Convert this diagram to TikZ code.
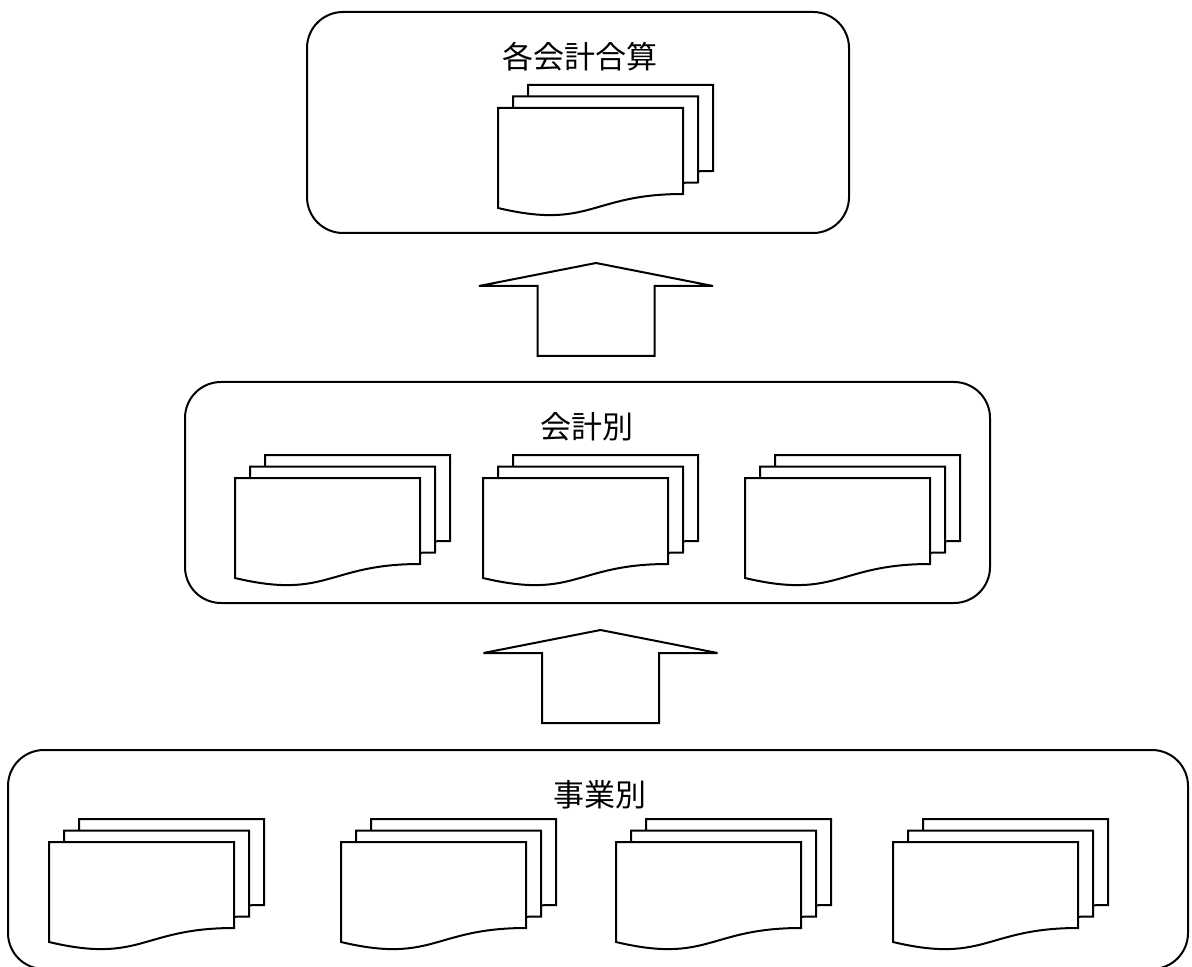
\documentclass[tikz,border=0pt]{standalone}
\usepackage{fontspec}
\newfontfamily\cjk{Noto Sans CJK JP}
\tikzset{
  docline/.style={draw=black, fill=white, line width=1pt, line join=miter},
  panel/.style={draw=black, line width=1pt, rounded corners=18pt, inner sep=0pt},
  lbl/.style={font=\cjk\fontsize{15.5pt}{18pt}\selectfont, inner sep=0pt},
  blk/.style={draw=black, fill=white, line width=1pt, line join=miter},
  sheet/.pic={\path[docline] (0,0) -- (185,0) -- (185,86) .. controls (92.5,86) and (92.5,122) .. (0,100) -- cycle;},
  docstack/.pic={\pic at (30,-23) {sheet}; \pic at (15,-11.5) {sheet}; \pic at (0,0) {sheet};},
  blockarrow/.pic={\path[blk] (0,0) -- (117,23) -- (58.5,23) -- (58.5,93) -- (-58.5,93) -- (-58.5,23) -- (-117,23) -- cycle;}
}
\begin{document}
\begin{tikzpicture}[x=0.5pt, y=-0.5pt]
\useasboundingbox (0,0) rectangle (1192,967);
% panels
\node[panel, minimum width=271pt, minimum height=110.5pt] (top) at (578,122.5) {};
\node[panel, minimum width=402.5pt, minimum height=110.5pt] (mid) at (587.5,492.5) {};
\node[panel, minimum width=590pt, minimum height=109.5pt] (bot) at (598,859.5) {};
% labels
\node[lbl] (ltop) at (580,56.5) {各会計合算};
\node[lbl] (lmid) at (587,427) {会計別};
\node[lbl] (lbot) at (600,795) {事業別};
% document stacks
\pic at (498,108) {docstack};
\pic at (235,478) {docstack};
\pic at (483,478) {docstack};
\pic at (745,478) {docstack};
\pic at (49,842) {docstack};
\pic at (341,842) {docstack};
\pic at (616,842) {docstack};
\pic at (893,842) {docstack};
% block arrows
\coordinate (tip1) at (596,263);
\coordinate (tip2) at (600.5,630);
\pic at (tip1) {blockarrow};
\pic at (tip2) {blockarrow};
\end{tikzpicture}
\end{document}
